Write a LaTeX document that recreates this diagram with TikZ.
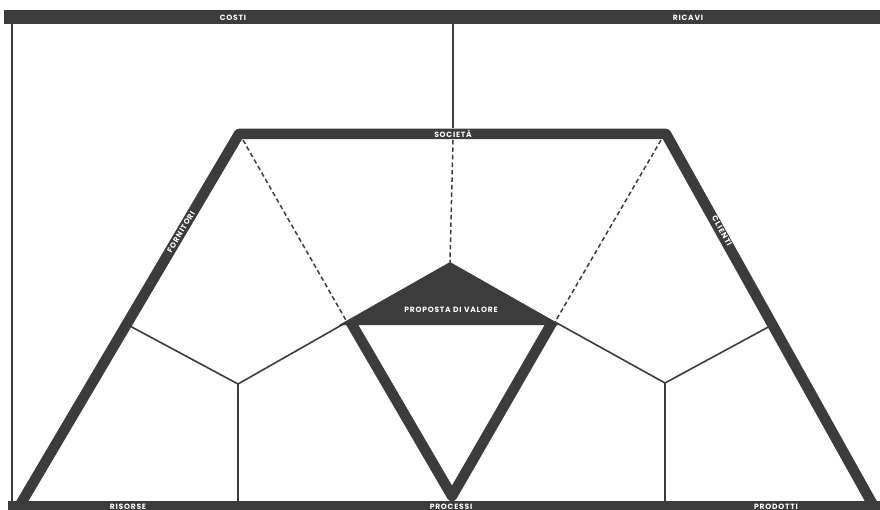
\documentclass[tikz,border=0pt]{standalone}
\usepackage{fontspec}
\setmainfont{Poppins}
\newfontfamily\lblfont[LetterSpace=10]{Poppins}
\definecolor{ink}{HTML}{3C3C3C}
\tikzset{
  thick line/.style={draw=ink, line width=10.5pt, line join=round},
  thin line/.style={draw=ink, line width=1.6pt},
  dash line/.style={draw=ink, line width=1.5pt, dash pattern=on 4.5pt off 3pt},
  lbl/.style={text=white, font=\lblfont\bfseries\fontsize{7.6}{8}\selectfont, inner sep=0pt},
}
\begin{document}
\begin{tikzpicture}[x=1pt,y=-1pt]
\useasboundingbox (0,0) rectangle (880,510);
\clip (0,0) rectangle (880,510);
\fill[white] (0,0) rectangle (880,510);
% key points
\coordinate (TL) at (239,134);
\coordinate (TR) at (666,134);
\coordinate (BL) at (20,505);
\coordinate (BR) at (873,505);
\coordinate (TLi) at (243,140);
\coordinate (TRi) at (661,140);
\coordinate (PA) at (450,262);
\coordinate (PL) at (347,322);
\coordinate (PR) at (555,322);
\coordinate (VB) at (452,496);
\coordinate (YL) at (238,384);
\coordinate (YR) at (665,383);
\coordinate (LL) at (128,325);
\coordinate (RR) at (772,325);
\coordinate (YLb) at (238,502);
\coordinate (YRb) at (665,502);
\coordinate (MT) at (453,24);
\coordinate (MB) at (453,128);
\coordinate (MD) at (453,140);
% outer frame
\draw[thin line] (12,24) -- (12,502);
% top bar
\fill[ink] (4,10) rectangle (880,24);
\node[lbl] (costi) at (233,17.5) {COSTI};
\node[lbl] (ricavi) at (688,17.5) {RICAVI};
% middle vertical
\draw[thin line] (MT) -- (MB);
\draw[dash line] (MD) -- (PA);
% dashed diagonals
\draw[dash line] (TLi) -- (PL);
\draw[dash line] (TRi) -- (PR);
% Y dividers
\draw[thin line] (LL) -- (YL) -- (PL);
\draw[thin line] (YL) -- (YLb);
\draw[thin line] (PR) -- (YR) -- (RR);
\draw[thin line] (YR) -- (YRb);
% trapezoid
\draw[thick line] (BL) -- (TL) -- (TR) -- (BR);
% value triangle
\fill[ink] (PA) -- (339,325) -- (561,325) -- cycle;
\draw[thick line] (350,321) -- (VB) -- (553,321);
\node[lbl] (valore) at (451,309.5) {PROPOSTA DI VALORE};
% bottom bar
\fill[ink] (8,501) rectangle (880,515);
\node[lbl] (risorse) at (128,506.5) {RISORSE};
\node[lbl] (processi) at (451,506.5) {PROCESSI};
\node[lbl] (prodotti) at (776,506.5) {PRODOTTI};
% labels on frame
\node[lbl] (societa) at (453,134) {SOCIETÀ};
\node[lbl, rotate=59.4] (fornitori) at (181,232) {FORNITORI};
\node[lbl, rotate=-60.8] (clienti) at (722,231) {CLIENTI};
\end{tikzpicture}
\end{document}
